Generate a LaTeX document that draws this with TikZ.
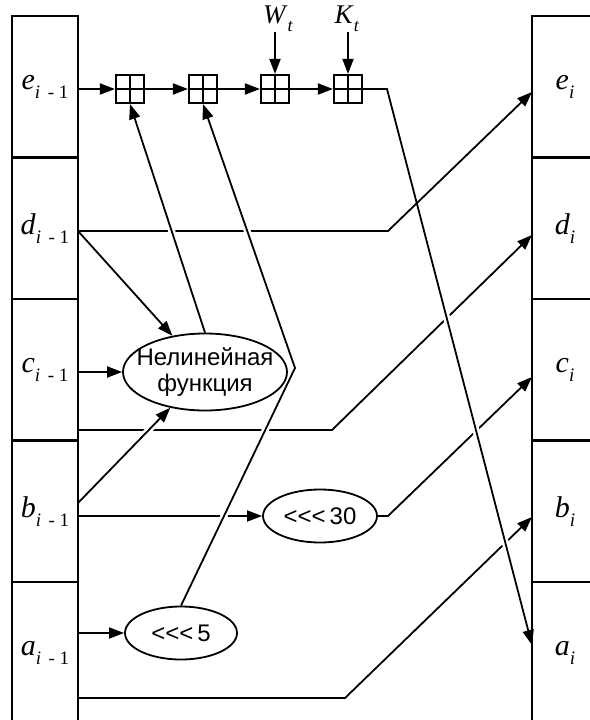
\documentclass[tikz,border=0pt]{standalone}
\usepackage{fontspec}
\setmainfont{Liberation Serif}
\newfontfamily\rusf{Liberation Sans}
\usetikzlibrary{arrows.meta,shapes.geometric}
\pgfdeclarelayer{background}
\pgfsetlayers{background,main}
\newcommand\regl[2]{\textit{#1}\raisebox{-0.3em}{\fontsize{19}{19}\selectfont #2}}
\newcommand\subl{\textit{i}\hspace{0.4em}-\hspace{0.25em}1}
\begin{document}
\begin{tikzpicture}[x=1pt,y=-1pt,
 reg/.style={draw,line width=2.1pt,minimum width=66pt,minimum height=141.5pt,inner sep=0pt,font=\fontsize{30}{30}\selectfont},
 adder/.style={draw,line width=2.1pt,minimum size=28pt,inner sep=0pt,
   path picture={\draw[line width=1.6pt] (path picture bounding box.north)--(path picture bounding box.south)
     (path picture bounding box.west)--(path picture bounding box.east);}},
 oval/.style={draw,ellipse,line width=1.8pt,inner sep=-15pt,font=\rusf\fontsize{24}{26}\selectfont,align=center},
 conn/.style={line width=1.8pt,-{Triangle[length=15pt,width=11pt]}},
 halo/.style={draw=white,line width=7pt,shorten <=10pt,shorten >=10pt},
 lbl/.style={inner sep=0pt,font=\fontsize{27}{27}\selectfont}]
\useasboundingbox (0,0) rectangle (589,720);

% registers, left
\node[reg] (e1) at (45,86.75)  {\regl{e}{\subl}};
\node[reg] (d1) at (45,228.25) {\regl{d}{\subl}};
\node[reg] (c1) at (45,369.75) {\regl{c}{\subl}};
\node[reg] (b1) at (45,511.25) {\regl{b}{\subl}};
\node[reg] (a1) at (45,652.75) {\regl{a}{\subl}};
% registers, right
\node[reg] (e2) at (565,86.75)  {\regl{e}{\textit{i}}};
\node[reg] (d2) at (565,228.25) {\regl{d}{\textit{i}}};
\node[reg] (c2) at (565,369.75) {\regl{c}{\textit{i}}};
\node[reg] (b2) at (565,511.25) {\regl{b}{\textit{i}}};
\node[reg] (a2) at (565,652.75) {\regl{a}{\textit{i}}};

% adders
\node[adder] (s1) at (130,89) {};
\node[adder] (s2) at (203,89) {};
\node[adder] (s3) at (275,89) {};
\node[adder] (s4) at (348,89) {};

% inputs
\node[lbl] (wt) at (278,19) {\textit{W}\raisebox{-0.3em}{\fontsize{18}{18}\selectfont\textit{t}}};
\node[lbl] (kt) at (347,19) {\textit{K}\raisebox{-0.3em}{\fontsize{18}{18}\selectfont\textit{t}}};

% function blocks
\node[oval,minimum width=164pt,minimum height=77pt] (nel) at (205,372) {Нелинейная\\функция};
\node[oval,minimum width=114pt,minimum height=53pt] (r30) at (320,516) {<\kern0pt<\kern0pt<\,30};
\node[oval,minimum width=112pt,minimum height=53pt] (r5) at (181,633) {<\kern0pt<\kern0pt<\,5};

% bend points
\coordinate (dout) at (78,231);
\coordinate (dbend) at (388,231);
\coordinate (etip) at (532,92);
\coordinate (cout) at (78,430);
\coordinate (cbend) at (332,430);
\coordinate (dtip) at (532,235);
\coordinate (bout) at (78,503);
\coordinate (rbend) at (388,516);
\coordinate (ctip) at (532,377);
\coordinate (aout) at (78,698);
\coordinate (abend) at (345,698);
\coordinate (btip) at (532,517);
\coordinate (ebend) at (387,89);
\coordinate (atip) at (532,645);
\coordinate (zig) at (295,368);

\begin{pgfonlayer}{background}
% lines passing underneath
\draw[conn] (cout) -- (cbend) -- (dtip);
\draw[conn] (r30.east) -- (rbend) -- (ctip);
\draw[conn] (aout) -- (abend) -- (btip);
\draw[conn] (b1.east |- r30) -- (r30.west);
\draw[conn] (a1.east |- r5) -- (r5.west);
\draw[conn] (c1.east |- nel) -- (nel.west);
% e chain
\draw[conn] (e1.east |- s1) -- (s1.west);
\draw[conn] (s1.east) -- (s2.west);
\draw[conn] (s2.east) -- (s3.west);
\draw[conn] (s3.east) -- (s4.west);
\draw[conn] (wt.south -| s3) -- (s3.north);
\draw[conn] (kt.south -| s4) -- (s4.north);
% e -> a
\draw[halo] (ebend) -- (atip);
\draw[conn] (s4.east) -- (ebend) -- (atip);
% d
\draw[conn] (dout) -- (dbend) -- (etip);
\draw[conn] (dout) -- (nel);
% lines passing over
\draw[halo] (nel.north) -- (s1.south);
\draw[conn] (nel.north) -- (s1.south);
\draw[halo] (r5.north) -- (zig) -- (s2.south);
\draw[conn] (r5.north) -- (zig) -- (s2.south);
\draw[halo] (bout) -- (nel);
\draw[conn] (bout) -- (nel);
\end{pgfonlayer}
\end{tikzpicture}
\end{document}
